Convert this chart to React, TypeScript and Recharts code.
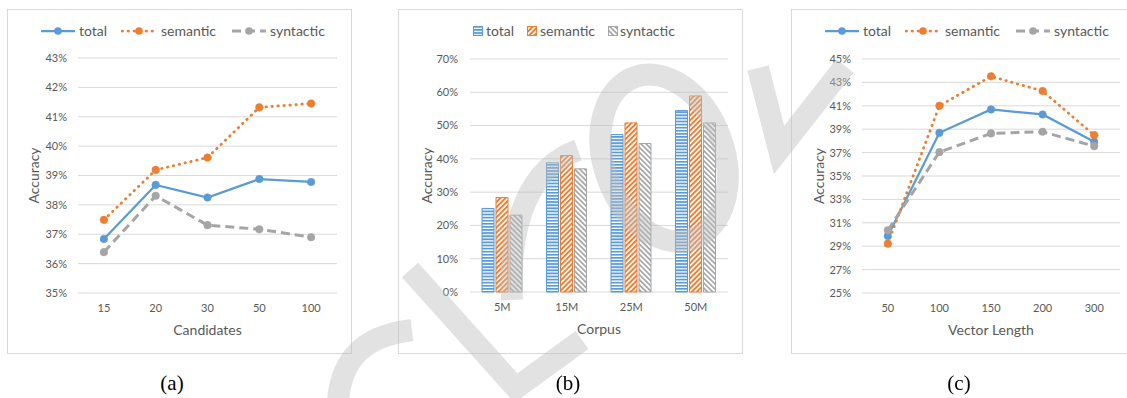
import React from 'react';
import { LineChart, Line, BarChart, Bar, XAxis, YAxis, CartesianGrid, Label } from 'recharts';

// panel (a): accuracy vs number of candidates
const candidates = ['15', '20', '30', '50', '100'];
const candTotal = [36.84, 38.68, 38.25, 38.88, 38.78];
const candSemantic = [37.49, 39.19, 39.61, 41.32, 41.45];
const candSyntactic = [36.39, 38.31, 37.31, 37.17, 36.9];
const candTicks = [35, 36, 37, 38, 39, 40, 41, 42, 43];

// panel (b): accuracy vs corpus size
const corpus = ['5M', '15M', '25M', '50M'];
const corpusTotal = [25.1, 38.8, 47.3, 54.5];
const corpusSemantic = [28.4, 41.0, 50.8, 58.9];
const corpusSyntactic = [23.1, 37.0, 44.6, 50.8];
const corpusTicks = [0, 10, 20, 30, 40, 50, 60, 70];

// panel (c): accuracy vs vector length
const vecLength = ['50', '100', '150', '200', '300'];
const vecTotal = [29.87, 38.69, 40.69, 40.26, 37.92];
const vecSemantic = [29.22, 41.0, 43.52, 42.26, 38.49];
const vecSyntactic = [30.36, 37.04, 38.64, 38.78, 37.55];
const vecTicks = [25, 27, 29, 31, 33, 35, 37, 39, 41, 43, 45];

const seriesNames = ['total', 'semantic', 'syntactic'];
const captions = ['(a)', '(b)', '(c)'];

const TOTAL = '#5B9BD5';
const SEM = '#ED7D31';
const SYN = '#A5A5A5';
const GRID = '#D9D9D9';
const TEXT = '#595959';
const FONT = 'Lato, "Open Sans", sans-serif';

const lineStyles = [
  { color: TOTAL, width: 2.25, dash: undefined as string | undefined, cap: 'butt' as const },
  { color: SEM, width: 2.75, dash: '0.5 5.5', cap: 'round' as const },
  { color: SYN, width: 3, dash: '9 5', cap: 'butt' as const },
];

const tickStyle = { fill: TEXT, fontSize: 11, fontFamily: FONT };
const pct = (v: number) => `${v}%`;

const yTitle = (cx: number) => (props: any) => {
  const vb = props.viewBox;
  const y = vb.y + vb.height / 2;
  return (
    <text x={cx} y={y} transform={`rotate(-90, ${cx}, ${y})`} textAnchor="middle" dominantBaseline="central"
      fill={TEXT} fontSize={14} fontFamily={FONT}>Accuracy</text>
  );
};

const xTitle = (title: string) => (props: any) => {
  const vb = props.viewBox;
  return (
    <text x={vb.x + vb.width / 2} y={vb.y + 36} textAnchor="middle" dominantBaseline="central"
      fill={TEXT} fontSize={14} fontFamily={FONT}>{title}</text>
  );
};

function Box({ left, children }: { left: number; children: React.ReactNode }) {
  return (
    <div style={{ position: 'absolute', left, top: 9, width: 345, height: 345 }}>
      {children}
      <div style={{ position: 'absolute', left: 0, top: 0, width: 345, height: 345, border: `1px solid ${GRID}`, boxSizing: 'border-box', pointerEvents: 'none' }} />
    </div>
  );
}

function LineLegend() {
  const xs = [{ x: 33, tx: 72 }, { x: 114, tx: 154 }, { x: 224, tx: 263 }];
  return (
    <>
      {seriesNames.map((name, i) => {
        const s = lineStyles[i];
        return (
          <React.Fragment key={name}>
            <svg style={{ position: 'absolute', left: xs[i].x, top: 14 }} width={36} height={16}>
              <line x1={1} y1={8} x2={35} y2={8} stroke={s.color} strokeWidth={s.width} strokeDasharray={s.dash} strokeLinecap={s.cap} />
              <circle cx={18} cy={8} r={3.8} fill={s.color} />
            </svg>
            <span style={{ position: 'absolute', left: xs[i].tx, top: 13, fontSize: 14, lineHeight: '18px', color: TEXT, fontFamily: FONT, whiteSpace: 'nowrap' }}>{name}</span>
          </React.Fragment>
        );
      })}
    </>
  );
}

function BarLegend() {
  const xs = [{ x: 75, tx: 88 }, { x: 129, tx: 142 }, { x: 210, tx: 222 }];
  const fills = ['url(#pat-total)', 'url(#pat-sem)', 'url(#pat-syn)'];
  const strokes = [TOTAL, SEM, SYN];
  return (
    <>
      {seriesNames.map((name, i) => (
        <React.Fragment key={name}>
          <svg style={{ position: 'absolute', left: xs[i].x, top: 17 }} width={11} height={11}>
            <rect x={0.5} y={0.5} width={9} height={9} fill={fills[i]} stroke={strokes[i]} strokeWidth={1} />
          </svg>
          <span style={{ position: 'absolute', left: xs[i].tx, top: 13, fontSize: 14, lineHeight: '18px', color: TEXT, fontFamily: FONT, whiteSpace: 'nowrap' }}>{name}</span>
        </React.Fragment>
      ))}
    </>
  );
}

function LinePanel({ left, cats, total, semantic, syntactic, ticks, title, right, top, axisH, titleX }: any) {
  const data = cats.map((c: string, i: number) => ({ cat: c, total: total[i], semantic: semantic[i], syntactic: syntactic[i] }));
  const domain = [ticks[0], ticks[ticks.length - 1]];
  // half a category band on each side, like Excel's "between tick marks"
  const half = (345 - 71 - right) / cats.length / 2;
  return (
    <Box left={left}>
      <LineChart width={345} height={345} data={data} margin={{ top, right, left: 0, bottom: 0 }}>
        <CartesianGrid vertical={false} stroke={GRID} />
        <XAxis dataKey="cat" axisLine={false} tickLine={false} height={axisH} tick={tickStyle} tickMargin={5} interval={0}
          padding={{ left: half, right: half }}>
          <Label content={xTitle(title)} />
        </XAxis>
        <YAxis width={71} domain={domain} ticks={ticks} axisLine={false} tickLine={false} tick={tickStyle} tickMargin={5} tickFormatter={pct} interval={0}>
          <Label content={yTitle(titleX)} />
        </YAxis>
        {seriesNames.map((name, i) => {
          const s = lineStyles[i];
          return (
            <Line key={name} dataKey={name} type="linear" stroke={s.color} strokeWidth={s.width} strokeDasharray={s.dash}
              strokeLinecap={s.cap} dot={{ r: 3.8, fill: s.color, stroke: s.color, strokeWidth: 0.5, strokeDasharray: 'none' }}
              activeDot={false} isAnimationActive={false} />
          );
        })}
      </LineChart>
      <LineLegend />
    </Box>
  );
}

function BarPanel() {
  const data = corpus.map((c, i) => ({ cat: c, total: corpusTotal[i], semantic: corpusSemantic[i], syntactic: corpusSyntactic[i] }));
  const fills = ['url(#pat-total)', 'url(#pat-sem)', 'url(#pat-syn)'];
  const strokes = [TOTAL, SEM, SYN];
  return (
    <Box left={398}>
      <BarChart width={345} height={345} data={data} margin={{ top: 50, right: 15, left: 0, bottom: 0 }} barSize={12} barGap={2}>
        <CartesianGrid vertical={false} stroke={GRID} />
        <XAxis dataKey="cat" axisLine={false} tickLine={false} height={62} tick={tickStyle} tickMargin={5} interval={0}>
          <Label content={xTitle('Corpus')} />
        </XAxis>
        <YAxis width={72} domain={[0, 70]} ticks={corpusTicks} axisLine={false} tickLine={false} tick={tickStyle} tickMargin={6} tickFormatter={pct} interval={0}>
          <Label content={yTitle(28.5)} />
        </YAxis>
        {seriesNames.map((name, i) => (
          <Bar key={name} dataKey={name} fill={fills[i]} stroke={strokes[i]} strokeWidth={1} isAnimationActive={false} />
        ))}
      </BarChart>
      <BarLegend />
    </Box>
  );
}

// faint draft watermark strokes lying over the figure
function Watermark() {
  return (
    <svg width={1127} height={398} style={{ position: 'absolute', left: 0, top: 0, pointerEvents: 'none' }}>
      <g opacity={0.45} fill="none" stroke="#BEBEBE" strokeWidth={22}>
        <path d="M 338 400 C 342 358 364 336 412 330" />
        <path d="M 410 270 L 516 388 L 582 340" />
        <path d="M 512 300 C 508 225 528 168 578 150" />
        <ellipse cx={664} cy={158} rx={60} ry={86} transform="rotate(-20 664 158)" />
        <path d="M 758 68 L 779 150 L 845 66" />
      </g>
    </svg>
  );
}

export default function App() {
  const capX = [172, 568, 959];
  return (
    <div style={{ position: 'absolute', left: 0, top: 0, width: 1127, height: 398, overflow: 'hidden', background: '#fff' }}>
      <svg width={0} height={0} style={{ position: 'absolute' }}>
        <defs>
          <pattern id="pat-total" width={4} height={3.1} patternUnits="userSpaceOnUse">
            <rect width={4} height={3.1} fill="#fff" />
            <rect width={4} height={1.8} fill={TOTAL} />
          </pattern>
          <pattern id="pat-sem" width={3.6} height={3.6} patternUnits="userSpaceOnUse" patternTransform="rotate(45)">
            <rect width={3.6} height={3.6} fill="#fff" />
            <rect width={1.9} height={3.6} fill={SEM} />
          </pattern>
          <pattern id="pat-syn" width={3.6} height={3.6} patternUnits="userSpaceOnUse" patternTransform="rotate(-45)">
            <rect width={3.6} height={3.6} fill="#fff" />
            <rect width={1.7} height={3.6} fill={SYN} />
          </pattern>
        </defs>
      </svg>
      <LinePanel left={7} cats={candidates} total={candTotal} semantic={candSemantic} syntactic={candSyntactic}
        ticks={candTicks} title="Candidates" right={15} top={49} axisH={61} titleX={26.5} />
      <BarPanel />
      <LinePanel left={791} cats={vecLength} total={vecTotal} semantic={vecSemantic} syntactic={vecSyntactic}
        ticks={vecTicks} title="Vector Length" right={16} top={50} axisH={61} titleX={27} />
      <Watermark />
      {captions.map((c, i) => (
        <div key={c} style={{ position: 'absolute', left: capX[i] - 30, top: 370, width: 60, textAlign: 'center', fontFamily: '"Liberation Serif", serif', fontSize: 21, lineHeight: '26px', color: '#000' }}>{c}</div>
      ))}
    </div>
  );
}
